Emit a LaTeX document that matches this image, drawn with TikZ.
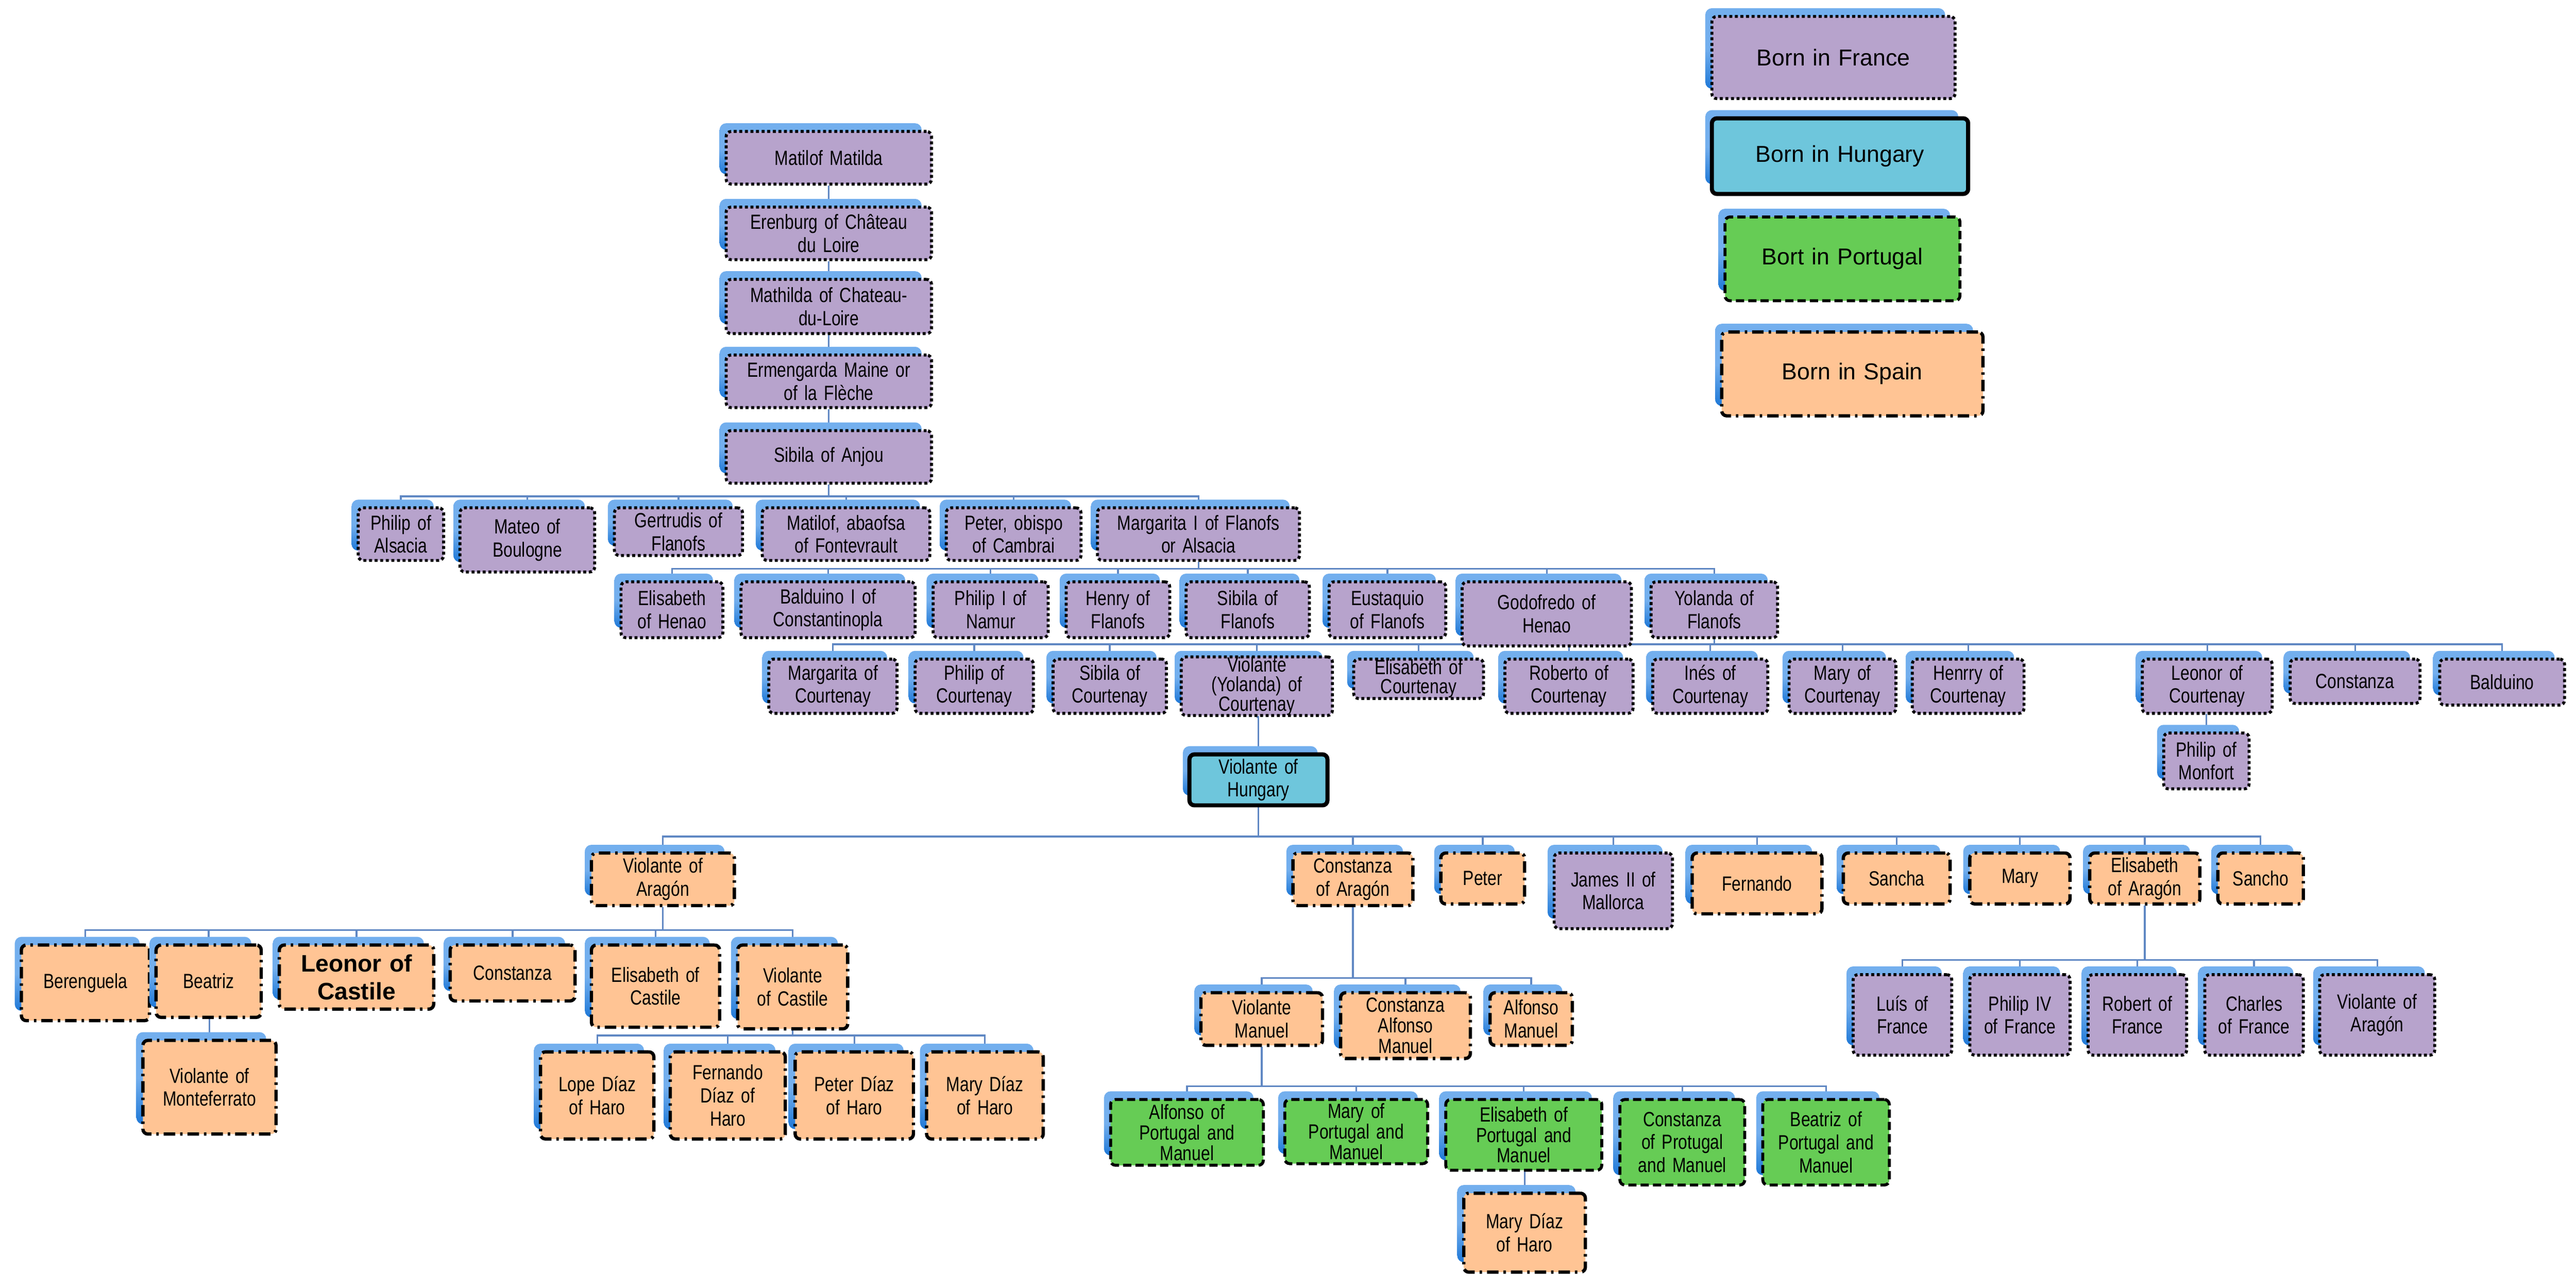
\documentclass[tikz,border=0pt]{standalone}
\usepackage{fontspec}
\setmainfont{Liberation Sans}
\newfontfamily\nf{Liberation Sans}[FakeStretch=0.8]
\usetikzlibrary{backgrounds}
\definecolor{frc}{RGB}{183,163,204}
\definecolor{huc}{RGB}{110,198,220}
\definecolor{ptc}{RGB}{102,204,85}
\definecolor{spc}{RGB}{255,196,148}
\definecolor{shblue}{RGB}{115,175,238}
\definecolor{shdark}{RGB}{30,120,215}
\definecolor{linec}{RGB}{95,135,195}
\tikzset{
 base/.style={rounded corners=3pt, align=center, inner xsep=1pt, inner ysep=0pt,
   font=\nf\fontsize{12.5}{14}\selectfont, text=black},
 fr/.style={base, fill=frc, draw=black, line width=1.8pt, dash pattern=on 1.8pt off 1.6pt},
 hu/.style={base, fill=huc, draw=black, line width=2.5pt},
 pt/.style={base, fill=ptc, draw=black, line width=1.8pt, dash pattern=on 5pt off 2.5pt},
 sp/.style={base, fill=spc, draw=black, line width=2pt, dash pattern=on 7pt off 3pt on 1.5pt off 3pt},
 leg/.style={font=\fontsize{14}{16}\selectfont},
 shad/.style={rounded corners=4pt, top color=shblue, bottom color=shdark, middle color=shblue},
 conn/.style={draw=linec, line width=1pt},
 tight/.style={font=\nf\fontsize{12.5}{12.5}\selectfont},
}
\newcommand\bx[7]{%
 \pgfmathsetmacro\bxcx{(#2+#4)/2}\pgfmathsetmacro\bxcy{(#3+#5)/2}%
 \pgfmathsetmacro\bxw{#4-#2}\pgfmathsetmacro\bxh{#5-#3}\pgfmathsetmacro\bxtw{#4-#2-2}%
 \path[shad] (#2-4,#3-5) rectangle (#4-6,#5-6);
 \node[#6, minimum width=\bxw pt, minimum height=\bxh pt, text width=\bxtw pt] (#1) at (\bxcx,\bxcy) {#7};}
\newcommand\famline[3]{\foreach \cc in {#3} {\draw[conn] (#1.south) -- (#1.south |- 0,#2) -| (\cc.north);}}
\newcommand\oneline[2]{\draw[conn] (#1.south) -- (#1.south -| #2.north) -- (#2.north);}
\begin{document}
\begin{tikzpicture}[x=1pt,y=-1pt]
\useasboundingbox (0,0) rectangle (1568,783);
\bx{lf}{1042}{10}{1190}{60}{fr,leg}{Born in France}
\bx{lh}{1042}{72}{1198}{118}{hu,leg}{Born in Hungary}
\bx{lp}{1050}{132}{1193}{183}{pt,leg}{Bort in Portugal}
\bx{ls}{1048}{202}{1207}{253}{sp,leg}{Born in Spain}
\bx{m1}{442}{80}{567}{112}{fr}{Matilof Matilda}
\bx{m2}{442}{126}{567}{158}{fr}{Erenburg of Château\\du Loire}
\bx{m3}{442}{170}{567}{203}{fr}{Mathilda of Chateau-\\du-Loire}
\bx{m4}{442}{216}{567}{248}{fr}{Ermengarda Maine or\\of la Flèche}
\bx{m5}{442}{262}{567}{294}{fr}{Sibila of Anjou}
\bx{a1}{218}{309}{270}{341}{fr}{Philip of\\Alsacia}
\bx{a2}{280}{309}{362}{348}{fr}{Mateo of\\Boulogne}
\bx{a3}{374}{309}{452}{338}{fr}{Gertrudis of\\Flanofs}
\bx{a4}{464}{309}{566}{341}{fr}{Matilof, abaofsa\\of Fontevrault}
\bx{a5}{576}{309}{658}{341}{fr}{Peter, obispo\\of Cambrai}
\bx{a6}{668}{309}{791}{341}{fr}{Margarita I of Flanofs\\or Alsacia}
\bx{b1}{378}{354}{440}{388}{fr}{Elisabeth\\of Henao}
\bx{b2}{451}{354}{557}{388}{fr}{Balduino I of\\Constantinopla}
\bx{b3}{568}{354}{638}{388}{fr}{Philip I of\\Namur}
\bx{b4}{649}{354}{712}{388}{fr}{Henry of\\Flanofs}
\bx{b5}{722}{354}{797}{388}{fr}{Sibila of\\Flanofs}
\bx{b6}{809}{354}{880}{388}{fr}{Eustaquio\\of Flanofs}
\bx{b7}{890}{354}{993}{393}{fr}{Godofredo of\\Henao}
\bx{b8}{1005}{354}{1082}{388}{fr}{Yolanda of\\Flanofs}
\bx{c1}{468}{401}{546}{434}{fr}{Margarita of\\Courtenay}
\bx{c2}{557}{401}{629}{434}{fr}{Philip of\\Courtenay}
\bx{c3}{641}{401}{710}{434}{fr}{Sibila of\\Courtenay}
\bx{c4}{719}{401}{811}{434}{fr,font=\nf\fontsize{12.5}{12}\selectfont}{Violante\\(Yolanda) of\\Courtenay}
\bx{c5}{824}{401}{903}{425}{fr,font=\nf\fontsize{12.5}{11.5}\selectfont}{Elisabeth of\\Courtenay}
\bx{c6}{916}{401}{994}{434}{fr}{Roberto of\\Courtenay}
\bx{c7}{1006}{401}{1076}{434}{fr}{Inés of\\Courtenay}
\bx{c8}{1089}{401}{1154}{434}{fr}{Mary of\\Courtenay}
\bx{c9}{1164}{401}{1232}{434}{fr}{Henrry of\\Courtenay}
\bx{c10}{1304}{401}{1383}{434}{fr}{Leonor of\\Courtenay}
\bx{c11}{1394}{401}{1473}{428}{fr}{Constanza}
\bx{c12}{1485}{401}{1561}{429}{fr}{Balduino}
\bx{c13}{1317}{446}{1369}{480}{fr}{Philip of\\Monfort}
\bx{h}{724}{459}{808}{490}{hu}{Violante of\\Hungary}
\bx{d1}{360}{519}{447}{551}{sp}{Violante of\\Aragón}
\bx{d2}{787}{519}{860}{551}{sp}{Constanza\\of Aragón}
\bx{d3}{877}{519}{928}{550}{sp}{Peter}
\bx{d4}{946}{519}{1018}{565}{fr}{James II of\\Mallorca}
\bx{d5}{1030}{519}{1109}{556}{sp}{Fernando}
\bx{d6}{1122}{519}{1187}{550}{sp}{Sancha}
\bx{d7}{1199}{519}{1260}{550}{sp}{Mary}
\bx{d8}{1272}{519}{1339}{550}{sp}{Elisabeth\\of Aragón}
\bx{d9}{1350}{519}{1402}{550}{sp}{Sancho}
\bx{e1}{13}{575}{91}{621}{sp}{Berenguela}
\bx{e2}{95}{575}{159}{619}{sp}{Beatriz}
\bx{e3}{170}{575}{264}{614}{sp,font=\bfseries\fontsize{14.5}{17}\selectfont}{Leonor of\\Castile}
\bx{e4}{274}{575}{350}{609}{sp}{Constanza}
\bx{e5}{360}{575}{438}{625}{sp}{Elisabeth of\\Castile}
\bx{e6}{449}{575}{516}{626}{sp}{Violante\\of Castile}
\bx{e7}{87}{633}{168}{690}{sp}{Violante of\\Monteferrato}
\bx{f1}{329}{640}{398}{693}{sp}{Lope Díaz\\of Haro}
\bx{f2}{408}{640}{478}{693}{sp}{Fernando\\Díaz of\\Haro}
\bx{f3}{484}{640}{556}{693}{sp}{Peter Díaz\\of Haro}
\bx{f4}{564}{640}{635}{693}{sp}{Mary Díaz\\of Haro}
\bx{g1}{731}{604}{805}{636}{sp}{Violante\\Manuel}
\bx{g2}{816}{604}{895}{644}{sp,tight}{Constanza\\Alfonso\\Manuel}
\bx{g3}{907}{604}{957}{636}{sp}{Alfonso\\Manuel}
\bx{k1}{676}{669}{769}{709}{pt,tight}{Alfonso of\\Portugal and\\Manuel}
\bx{k2}{782}{669}{869}{708}{pt,tight}{Mary of\\Portugal and\\Manuel}
\bx{k3}{880}{669}{975}{712}{pt,tight}{Elisabeth of\\Portugal and\\Manuel}
\bx{k4}{986}{669}{1062}{721}{pt}{Constanza\\of Protugal\\and Manuel}
\bx{k5}{1073}{669}{1150}{721}{pt}{Beatriz of\\Portugal and\\Manuel}
\bx{k6}{891}{726}{965}{774}{sp}{Mary Díaz\\of Haro}
\bx{n1}{1128}{593}{1188}{642}{fr}{Luís of\\France}
\bx{n2}{1199}{593}{1260}{642}{fr}{Philip IV\\of France}
\bx{n3}{1271}{593}{1331}{642}{fr}{Robert of\\France}
\bx{n4}{1342}{593}{1402}{642}{fr}{Charles\\of France}
\bx{n5}{1412}{593}{1482}{642}{fr}{Violante of\\Aragón}
\begin{pgfonlayer}{background}
\draw[conn] (m1) -- (m2) -- (m3) -- (m4) -- (m5);
\famline{m5}{302}{a1,a2,a3,a4,a5,a6}
\famline{a6}{346}{b1,b2,b3,b4,b5,b6,b7,b8}
\famline{b8}{392}{c1,c2,c3,c4,c5,c6,c7,c8,c9,c10,c11,c12}
\oneline{c10}{c13}
\oneline{c4}{h}
\famline{h}{509}{d1,d2,d3,d4,d5,d6,d7,d8,d9}
\famline{d1}{566}{e1,e2,e3,e4,e5,e6}
\oneline{e2}{e7}
\famline{e6}{630}{f1,f2,f3,f4}
\famline{d2}{595}{g1,g2,g3}
\famline{g1}{661}{k1,k2,k3,k4,k5}
\oneline{k3}{k6}
\famline{d8}{584}{n1,n2,n3,n4,n5}
\end{pgfonlayer}
\end{tikzpicture}
\end{document}
